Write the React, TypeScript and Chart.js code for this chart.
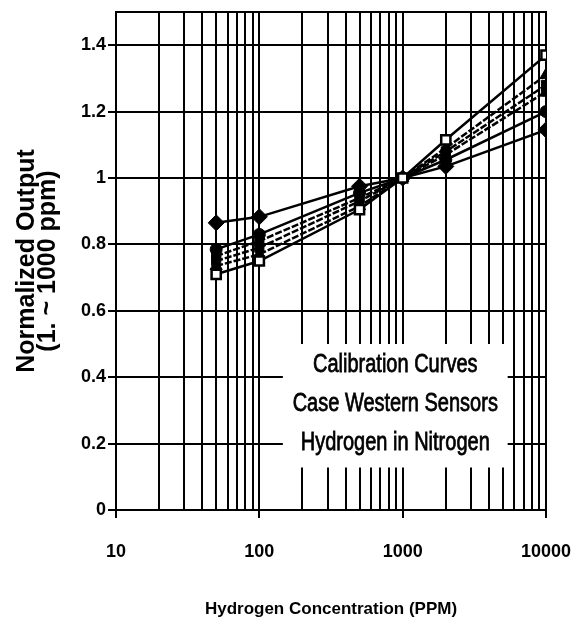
import React, { useEffect, useRef } from "react";
import { Chart, registerables } from "chart.js";

Chart.register(...registerables);

// ---- data ----
const concentrations = [50, 100, 500, 1000, 2000, 10000];
const sensorOpenSquare = [0.71, 0.75, 0.905, 1.0, 1.115, 1.37];
const sensorTriangle = [0.735, 0.77, 0.915, 1.0, 1.09, 1.31];
const sensorSquareA = [0.75, 0.79, 0.93, 1.0, 1.08, 1.28];
const sensorSquareB = [0.765, 0.81, 0.94, 1.0, 1.07, 1.26];
const sensorCircle = [0.785, 0.83, 0.955, 1.0, 1.055, 1.2];
const sensorDiamond = [0.865, 0.883, 0.975, 1.0, 1.035, 1.145];

const yTickValues = [0, 0.2, 0.4, 0.6, 0.8, 1, 1.2, 1.4];
const xDecades = [10, 100, 1000, 10000];
const noteLines = ["Calibration Curves", "Case Western Sensors", "Hydrogen in Nitrogen"];
const xTitle = "Hydrogen Concentration (PPM)";
const yTitle = ["Normalized Output", "(1. ~ 1000 ppm)"];

// note box extent in data units
const noteBoxX = [146, 5400];
const noteBoxY = [0.128, 0.5];

const FONT = "'Liberation Sans', Arial, Helvetica, sans-serif";

const toPoints = (vals: number[]) => concentrations.map((c, i) => ({ x: c, y: vals[i] }));

const notePlugin = {
  id: "frameAndNote",
  beforeDatasetsDraw(chart: any) {
    const { ctx, chartArea, scales } = chart;
    const xs = scales.x;
    const ys = scales.y;
    ctx.save();
    // frame around plot
    ctx.strokeStyle = "#000";
    ctx.lineWidth = 2;
    ctx.strokeRect(chartArea.left, chartArea.top, chartArea.right - chartArea.left, chartArea.bottom - chartArea.top);
    // white note box
    const l = xs.getPixelForValue(noteBoxX[0]);
    const r = xs.getPixelForValue(noteBoxX[1]);
    const t = ys.getPixelForValue(noteBoxY[1]);
    const b = ys.getPixelForValue(noteBoxY[0]);
    ctx.fillStyle = "#fff";
    ctx.fillRect(l, t, r - l, b - t);
    ctx.fillStyle = "#000";
    ctx.strokeStyle = "#000";
    ctx.lineWidth = 0.6;
    ctx.font = `20px ${FONT}`;
    ctx.textAlign = "center";
    ctx.textBaseline = "middle";
    const cx = (l + r) / 2;
    const cy = (t + b) / 2 - 2;
    const gap = 39;
    const stretch = 1.3;
    noteLines.forEach((line, i) => {
      ctx.save();
      ctx.translate(cx, cy + (i - 1) * gap);
      ctx.scale(1, stretch);
      ctx.fillText(line, 0, 0);
      ctx.strokeText(line, 0, 0);
      ctx.restore();
    });
    ctx.restore();
  },
};

export default function App() {
  const canvasRef = useRef<HTMLCanvasElement | null>(null);

  useEffect(() => {
    if (!canvasRef.current) return;
    const lineBase = {
      borderColor: "#000",
      borderWidth: 2.5,
      pointBorderColor: "#000",
      pointBackgroundColor: "#000",
      pointBorderWidth: 1,
      tension: 0,
      fill: false,
    };
    const chart = new Chart(canvasRef.current, {
      type: "line",
      data: {
        datasets: [
          { ...lineBase, label: "A", data: toPoints(sensorOpenSquare), pointStyle: "rect", pointRadius: 6.5, pointBackgroundColor: "#fff", pointBorderWidth: 2.5 },
          { ...lineBase, label: "B", data: toPoints(sensorTriangle), pointStyle: "triangle", pointRadius: 7, borderDash: [7, 2] },
          { ...lineBase, label: "C", data: toPoints(sensorSquareA), pointStyle: "rect", pointRadius: 6.5, borderDash: [7, 2] },
          { ...lineBase, label: "D", data: toPoints(sensorSquareB), pointStyle: "rect", pointRadius: 6.5, borderDash: [7, 2] },
          { ...lineBase, label: "E", data: toPoints(sensorCircle), pointStyle: "circle", pointRadius: 6 },
          { ...lineBase, label: "F", data: toPoints(sensorDiamond), pointStyle: "rectRot", pointRadius: 8 },
        ],
      },
      options: {
        animation: false,
        responsive: false,
        events: [],
        layout: { padding: { top: 12, right: 34, bottom: 0, left: 0 } },
        plugins: { legend: { display: false }, tooltip: { enabled: false } },
        scales: {
          x: {
            type: "logarithmic",
            min: 10,
            max: 10000,
            afterBuildTicks: (scale: any) => {
              const ticks: { value: number }[] = [];
              for (let d = 0; d < xDecades.length - 1; d++) {
                for (let m = 1; m < 10; m++) ticks.push({ value: xDecades[d] * m });
              }
              ticks.push({ value: xDecades[xDecades.length - 1] });
              scale.ticks = ticks;
            },
            afterFit: (scale: any) => {
              scale.height = 116;
              scale.paddingLeft = 0;
              scale.paddingRight = 0;
            },
            ticks: {
              autoSkip: false,
              maxRotation: 0,
              minRotation: 0,
              padding: 23,
              color: "#000",
              font: { family: FONT, size: 18, weight: "bold" },
              callback: (v: any) => (xDecades.includes(Number(v)) ? String(v) : ""),
            },
            grid: {
              color: "#000",
              lineWidth: 2,
              tickLength: 8,
              tickWidth: 2,
              tickColor: (ctx: any) => (ctx.tick && xDecades.includes(ctx.tick.value) ? "#000" : "rgba(0,0,0,0)"),
            },
            border: { display: true, color: "#000", width: 2 },
            title: {
              display: true,
              text: xTitle,
              color: "#000",
              font: { family: FONT, size: 17, weight: "bold", lineHeight: 1.2 },
              padding: { top: 0, bottom: 6 },
            },
          },
          y: {
            type: "linear",
            min: 0,
            max: 1.5,
            afterBuildTicks: (scale: any) => {
              scale.ticks = yTickValues.map((v) => ({ value: v }));
            },
            afterFit: (scale: any) => {
              scale.width = 116;
              scale.paddingTop = 0;
              scale.paddingBottom = 0;
            },
            ticks: {
              padding: 2,
              color: "#000",
              font: { family: FONT, size: 18, weight: "bold", lineHeight: 1.0 },
              callback: (v: any) => String(Number(Number(v).toFixed(1))),
            },
            grid: {
              color: "#000",
              lineWidth: 2,
              tickLength: 8,
              tickWidth: 2,
              tickColor: "#000",
            },
            border: { display: true, color: "#000", width: 2 },
            title: {
              display: true,
              text: yTitle,
              color: "#000",
              font: { family: FONT, size: 25, weight: "bold", lineHeight: 0.82 },
              padding: { top: 17, bottom: 0 },
            },
          },
        },
      },
      plugins: [notePlugin],
    } as any);
    return () => chart.destroy();
  }, []);

  return (
    <div style={{ position: "fixed", left: 0, top: 0, width: 580, height: 626, background: "#fff" }}>
      <canvas ref={canvasRef} width={580} height={626} style={{ display: "block" }} />
    </div>
  );
}
